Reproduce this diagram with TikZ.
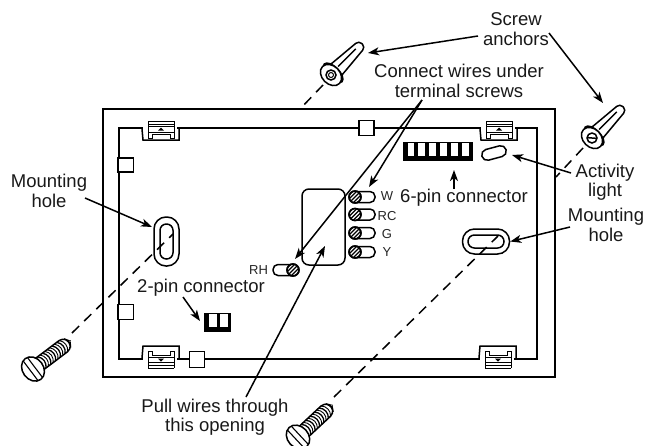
\documentclass[tikz,border=0pt]{standalone}
\usepackage{fontspec}
\setmainfont{Liberation Sans}
\usetikzlibrary{arrows.meta,calc}
\tikzset{
 x=1pt,y=-1pt,
 lab/.style={font=\fontsize{18.5}{19.5}\selectfont,align=center,inner sep=0pt,text=black!90},
 smalllab/.style={font=\fontsize{13}{15}\selectfont,inner sep=0pt,text=black!85},
 wall/.style={line width=1.5pt},
 thick line/.style={line width=2.4pt},
 arr/.style={line width=1.5pt,-{Stealth[length=11pt,width=8pt,inset=3pt]}},
 dashline/.style={line width=1.5pt,dash pattern=on 10pt off 7pt},
}
\newcommand{\topclip}[2]{%
 \fill[white] (#1,#2-2) rectangle +(34,12);
 \draw[wall,fill=white] (#1-1,#2) -- (#1,#2+11) -- (#1+36,#2+11) -- (#1+36,#2);
 \begin{scope}[shift={(#1+5,#2-8)}]
 \fill[white] (0,0) rectangle (26,17);
 \draw[line width=.9pt] (0,0) -- (26,0) (0,3) -- (26,3) (0,5.5) -- (26,5.5) (0,0) -- (0,17) -- (4,17) -- (4,13) -- (22,13) -- (22,17) -- (26,17) -- (26,0) (0,11)--(26,11);
 \fill (10,9.5) -- (16,9.5) -- (13,6.5) -- cycle;
 \end{scope}}
\newcommand{\botclip}[2]{%
 \fill[white] (#1,#2+2) rectangle +(34,-12);
 \draw[wall] (#1-1,#2) -- (#1,#2-12) -- (#1+36,#2-12) -- (#1+36,#2);
 \begin{scope}[shift={(#1+5,#2-7)}]
 \fill[white] (0,0) rectangle (26,17);
 \draw[line width=.9pt] (0,17) -- (26,17) (0,14) -- (26,14) (0,11.5) -- (26,11.5) (0,17) -- (0,0) -- (4,0) -- (4,4) -- (22,4) -- (22,0) -- (26,0) -- (26,17) (0,6)--(26,6);
 \fill (10,7.5) -- (16,7.5) -- (13,10.5) -- cycle;
 \end{scope}}
\newcommand{\terminal}[3]{%
 \draw[wall,fill=white,rounded corners=5pt] (#1,#2-5.5) -- (#1+#3*20,#2-5.5) -- (#1+#3*20,#2+5.5) -- (#1,#2+5.5);
 \begin{scope}
 \draw[wall,fill=white] (#1,#2) circle (6);
 \clip (#1,#2) circle (6);
 \foreach \k in {-8,-4,0,4,8}{\draw[line width=1.1pt] (#1-8+\k,#2+8) -- (#1+8+\k,#2-8);}
 \end{scope}
 \draw[wall] (#1,#2) circle (6);}
\newcommand{\anchorpart}[4]{%
 \begin{scope}[shift={(#1,#2)},rotate=#3]
 \draw[wall,fill=white,rounded corners=4pt] (5,-8) -- (44,-4.5) -- (44,4.5) -- (5,8) -- cycle;
 \draw[wall] (11,-1) -- (36,-1);
 \draw[wall,fill=white] (3,0) ellipse (6 and 12.5);
 \draw[wall,fill=white] (0,0) ellipse (9 and 12);
 #4
 \end{scope}}
\newcommand{\screwpart}[3]{%
 \begin{scope}[shift={(#1,#2)},rotate=#3]
 \fill[white] (6,-7) rectangle (42,7);
 \draw[wall,rounded corners=4pt] (6,-7) -- (42,-7) -- (45,-2) -- (45,2) -- (42,7) -- (6,7);
 \foreach \s in {11,17,23,29,35}{\draw[line width=1.3pt] (\s,-7) .. controls (\s+4,-3) and (\s+4,3) .. (\s,7);
   \draw[line width=.9pt] (\s+3,-7) .. controls (\s+7,-3) and (\s+7,3) .. (\s+3,7);}
 \draw[wall,fill=white] (0,0) ellipse (10.5 and 13);
 \draw[line width=1.1pt] (-3,-12) -- (-3,12) (2.5,-12) -- (2.5,12);
 \end{scope}}
\begin{document}
\begin{tikzpicture}
\useasboundingbox (0,0) rectangle (650,445);
\fill[white] (0,0) rectangle (650,445);
\coordinate (ancL) at (331,75); \coordinate (ancLend) at (300,109);
\coordinate (ancR) at (592,138); \coordinate (ancRend) at (556,177);
\coordinate (scrL) at (72,333); \coordinate (holeL) at (173,234);
\coordinate (scrB) at (334,397); \coordinate (holeR) at (498,236);
\draw[thick line] (103,109) rectangle (555,377);
\draw[wall] (119,128) rectangle (537,359);
\topclip{143}{129}
\topclip{481}{129}
\botclip{143}{358}
\botclip{480}{358}
\node[draw,wall,fill=white,minimum size=15pt,inner sep=0pt] (sq1) at (366.5,128) {};
\node[draw,wall,fill=white,minimum width=15.5pt,minimum height=14pt,inner sep=0pt] (sq2) at (125.5,165) {};
\node[draw,wall,fill=white,minimum width=15.5pt,minimum height=15pt,inner sep=0pt] (sq3) at (125.5,312) {};
\node[draw,wall,fill=white,minimum width=15pt,minimum height=16pt,inner sep=0pt] (sq4) at (197,359.5) {};
\node[draw,wall,fill=white,rounded corners=12pt,minimum width=25pt,minimum height=49pt,inner sep=0pt] (mhL) at (166.5,241.5) {};
\node[draw,wall,rounded corners=6.4pt,minimum width=13pt,minimum height=35pt,inner sep=0pt] (mhLi) at (166.5,241.5) {};
\node[draw,wall,fill=white,rounded corners=12pt,minimum width=47pt,minimum height=25pt,inner sep=0pt] (mhR) at (486,241.5) {};
\node[draw,wall,rounded corners=6.4pt,minimum width=36pt,minimum height=13pt,inner sep=0pt] (mhRi) at (486,241.5) {};
\node[draw,wall,fill=white,rounded corners=5.4pt,minimum width=25pt,minimum height=11pt,inner sep=0pt,rotate=15] (led) at (494,153) {};
\node[fill=black,minimum width=70pt,minimum height=19pt,inner sep=0pt] (six) at (438,151.5) {};
\foreach \i in {0,...,5}{\fill[white] (407.5+\i*10.9,143) rectangle +(6.5,13);}
\node[fill=black,minimum width=27pt,minimum height=19pt,inner sep=0pt] (two) at (217.5,322.5) {};
\fill[white] (209,314) rectangle (217,327);
\fill[white] (220,314) rectangle (228,327);
\node[draw,wall,fill=white,rounded corners=7pt,minimum width=43pt,minimum height=76pt,inner sep=0pt] (opening) at (323.5,227) {};
\terminal{355}{197}{1}
\terminal{355}{214.5}{1}
\terminal{355}{233}{1}
\terminal{355}{252}{1}
\terminal{293}{270}{-1}
\coordinate (tW) at (369,187); \coordinate (tRH) at (295,259);
\coordinate (6tip) at (454,170); \coordinate (2tip) at (200,321);
\coordinate (ledtip) at (512,155);
\node[smalllab] (W) at (387,196) {W};
\node[smalllab] (RC) at (387,216) {RC};
\node[smalllab] (G) at (387,234) {G};
\node[smalllab] (Y) at (387,252) {Y};
\node[smalllab] (RH) at (258.5,270) {RH};
\anchorpart{331}{75}{45}{\draw[wall] (0,0) circle (5); \draw[line width=1pt] (0,0) circle (2.5);}
\anchorpart{592}{138}{45}{\draw[wall] (0,0) circle (5); \draw[wall] (-3,-3.5) -- (3,3.5);}
\screwpart{33}{369}{37}
\screwpart{298}{437}{43}
\draw[dashline] (ancL) ++(-8,10) -- (ancLend);
\draw[dashline] (ancR) ++(-9,10) -- (ancRend);
\draw[dashline] (scrL) -- (holeL);
\draw[dashline] (scrB) -- (holeR);
\node[lab] (anchors) at (516,29) {Screw\\anchors};
\node[lab] (wires) at (459,81) {Connect wires under\\terminal screws};
\node[lab] (sixl) at (464,198) {6-pin connector};
\node[lab] (act) at (605,182) {Activity\\light};
\node[lab] (mhrl) at (606,225) {Mounting\\hole};
\node[lab] (mhll) at (49,191) {Mounting\\hole};
\node[lab] (twol) at (201,288) {2-pin connector};
\node[lab] (pull) at (215,417) {Pull wires through\\this opening};
\coordinate (a1) at (478,36); \coordinate (a1e) at (368,53);
\coordinate (a2) at (549,33); \coordinate (a2e) at (603,103);
\coordinate (b0) at (422,100);
\draw[arr] (a1) -- (a1e);
\draw[arr] (a2) -- (a2e);
\draw[arr] (b0) -- (tRH);
\draw[arr] (b0) -- (tW);
\draw[arr] (454,189) -- (6tip);
\draw[arr] (571,173) -- (ledtip);
\draw[arr] (570,227) -- (mhR.east);
\draw[arr] (183,297) -- (2tip);
\draw[arr] (85,198) -- (152,227);
\draw[arr] (246,397) -- (325,246);
\end{tikzpicture}
\end{document}
